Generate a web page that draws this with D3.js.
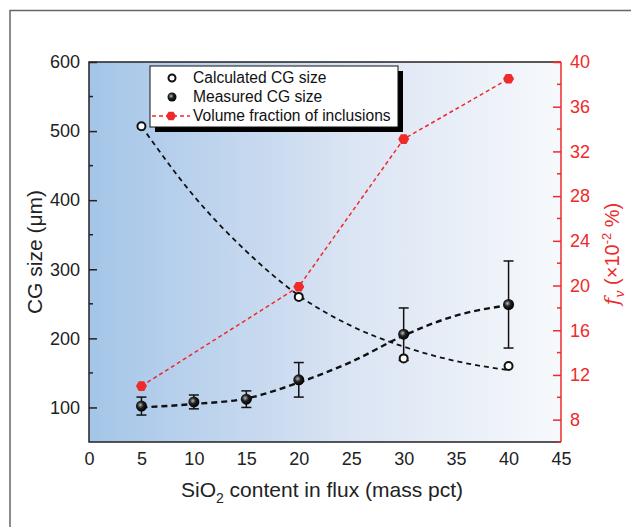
<!DOCTYPE html>
<html>
<head>
<meta charset="utf-8">
<script src="https://cdn.jsdelivr.net/npm/d3@7"></script>
<style>
  body { margin: 0; background: #fff; }
  svg { display: block; font-family: "Liberation Sans", Arial, sans-serif; }
</style>
</head>
<body>
<div id="chart"></div>
<script>
// SiO2 content (mass pct)
const sio2 = [5, 10, 15, 20, 30, 40];
const calcX = [5, 20, 30, 40];
const calcSize = [507, 260, 171, 160];
const measSize = [102, 108, 112, 140, 206, 249];
const measErr = [13, 10, 12, 25, 38, 63];
const fracX = [5, 20, 30, 40];
const fraction = [11.0, 19.9, 33.1, 38.5];

// fitted trend lines
const fitX = [5, 10, 15, 20, 25, 30, 35, 40];
const calcFit = [507, 406, 326, 262, 218, 188, 167, 154];
const measFit = [100, 105, 113, 136, 166, 204, 233, 248];

const xTicks = [0, 5, 10, 15, 20, 25, 30, 35, 40, 45];
const yTicks = [100, 200, 300, 400, 500, 600];
const y2Ticks = [8, 12, 16, 20, 24, 28, 32, 36, 40];

const width = 631, height = 527;
const margin = { top: 62, right: 70, bottom: 85, left: 89 };
const red = '#ee2a2a';

const svg = d3.select('#chart').append('svg')
    .attr('width', width)
    .attr('height', height);

// outer frame
svg.append('path')
    .attr('d', 'M10,527 V10.5 H631')
    .attr('fill', 'none')
    .attr('stroke', '#666')
    .attr('stroke-width', 1.5);

const x = d3.scaleLinear().domain([0, 45]).range([margin.left, width - margin.right]);
const y = d3.scaleLinear().domain([50, 600]).range([height - margin.bottom, margin.top]);
const y2 = d3.scaleLinear().domain([6, 40]).range([height - margin.bottom, margin.top]);

const defs = svg.append('defs');
const grad = defs.append('linearGradient').attr('id', 'bg');
grad.append('stop').attr('offset', '0%').attr('stop-color', '#a4c5e8');
grad.append('stop').attr('offset', '55%').attr('stop-color', '#dae4f3');
grad.append('stop').attr('offset', '100%').attr('stop-color', '#f7f9fc');

const ball = defs.append('radialGradient').attr('id', 'ball')
    .attr('cx', '40%').attr('cy', '40%').attr('r', '60%');
ball.append('stop').attr('offset', '0%').attr('stop-color', '#bbb');
ball.append('stop').attr('offset', '45%').attr('stop-color', '#222');
ball.append('stop').attr('offset', '100%').attr('stop-color', '#000');

const x0 = x.range()[0], x1 = x.range()[1];
const yb = y.range()[0], yt = y.range()[1];

svg.append('rect')
    .attr('x', x0).attr('y', yt)
    .attr('width', x1 - x0).attr('height', yb - yt)
    .attr('fill', 'url(#bg)');

// frame
svg.append('path')
    .attr('d', `M${x1},${yt} H${x0} V${yb} H${x1}`)
    .attr('fill', 'none')
    .attr('stroke', '#222')
    .attr('stroke-width', 1.5);

// left axis (ticks inward)
const yAxis = svg.append('g').attr('transform', `translate(${x0},0)`)
    .call(d3.axisLeft(y).tickValues(yTicks).tickSize(0).tickPadding(9));
yAxis.select('.domain').remove();
yAxis.selectAll('text').attr('font-size', 18).attr('fill', '#222')
    .attr('font-family', '"Liberation Sans", Arial, sans-serif');
yAxis.selectAll('.tick').append('line').attr('x2', 8).attr('stroke', '#222').attr('stroke-width', 1.5);
yAxis.selectAll('.minor').data(d3.range(150, 600, 100)).enter()
    .append('line')
    .attr('x1', 0).attr('x2', 4)
    .attr('y1', d => y(d)).attr('y2', d => y(d))
    .attr('stroke', '#222').attr('stroke-width', 1.5);

// bottom axis
const xAxis = svg.append('g').attr('transform', `translate(0,${yb})`)
    .call(d3.axisBottom(x).tickValues(xTicks).tickSize(0).tickPadding(10));
xAxis.select('.domain').remove();
xAxis.selectAll('text').attr('font-size', 18).attr('fill', '#222')
    .attr('font-family', '"Liberation Sans", Arial, sans-serif');

// right axis (red)
const y2Axis = svg.append('g').attr('transform', `translate(${x1},0)`)
    .call(d3.axisRight(y2).tickValues(y2Ticks).tickSize(0).tickPadding(9));
y2Axis.select('.domain').remove();
y2Axis.selectAll('text').attr('font-size', 18).attr('fill', red)
    .attr('font-family', '"Liberation Sans", Arial, sans-serif');
y2Axis.selectAll('.tick').append('line').attr('x2', -8).attr('stroke', red).attr('stroke-width', 1.5);
y2Axis.selectAll('.minor').data(d3.range(10, 40, 4)).enter()
    .append('line')
    .attr('x1', 0).attr('x2', -4)
    .attr('y1', d => y2(d)).attr('y2', d => y2(d))
    .attr('stroke', red).attr('stroke-width', 1.5);
y2Axis.append('line')
    .attr('y1', yt).attr('y2', yb)
    .attr('stroke', red).attr('stroke-width', 1.5);
svg.append('line').attr('x1', x1 - 8).attr('x2', x1).attr('y1', yt).attr('y2', yt)
    .attr('stroke', red).attr('stroke-width', 1.5);
svg.append('line').attr('x1', x1 - 4).attr('x2', x1).attr('y1', yb).attr('y2', yb)
    .attr('stroke', red).attr('stroke-width', 1.5);

// axis titles
const xt = svg.append('text')
    .attr('x', (x0 + x1) / 2 - 3).attr('y', 497)
    .attr('text-anchor', 'middle')
    .attr('font-size', 21).attr('fill', '#222');
xt.append('tspan').text('SiO');
xt.append('tspan').attr('font-size', 14).attr('dy', 6).text('2');
xt.append('tspan').attr('dy', -6).text(' content in flux (mass pct)');

svg.append('text')
    .attr('transform', `translate(42,${(yt + yb) / 2}) rotate(-90)`)
    .attr('text-anchor', 'middle')
    .attr('font-size', 21).attr('fill', '#222')
    .text('CG size (\u03bcm)');

const rt = svg.append('text')
    .attr('transform', `translate(619,${(yt + yb) / 2 + 2}) rotate(-90)`)
    .attr('text-anchor', 'middle')
    .attr('font-size', 20).attr('fill', red);
rt.append('tspan').attr('font-family', '"DejaVu Serif", serif').attr('font-style', 'italic').text('f');
rt.append('tspan').attr('font-family', '"DejaVu Serif", serif').attr('font-style', 'italic')
    .attr('font-size', 13).attr('dy', 5).text('v');
rt.append('tspan').attr('dy', -5).text(' (\u00d710');
rt.append('tspan').attr('font-size', 13).attr('dy', -8).text('-2');
rt.append('tspan').attr('dy', 8).text(' %)');

// fitted dashed curves
const line = d3.line().x(d => x(d[0])).y(d => y(d[1])).curve(d3.curveMonotoneX);
svg.append('path')
    .attr('d', line(fitX.map((v, i) => [v, calcFit[i]])))
    .attr('fill', 'none').attr('stroke', '#111')
    .attr('stroke-width', 1.8).attr('stroke-dasharray', '5,4');
svg.append('path')
    .attr('d', line(fitX.map((v, i) => [v, measFit[i]])))
    .attr('fill', 'none').attr('stroke', '#111')
    .attr('stroke-width', 2.4).attr('stroke-dasharray', '6,4');

// volume fraction line
const redLine = d3.line().x(d => x(d[0])).y(d => y2(d[1]));
svg.append('path')
    .attr('d', redLine(fracX.map((v, i) => [v, fraction[i]])))
    .attr('fill', 'none').attr('stroke', red)
    .attr('stroke-width', 1.5).attr('stroke-dasharray', '4,3');

const hexagon = (r) => {
    const pts = d3.range(6).map(k => {
        const a = Math.PI / 3 * k;
        return [r * Math.cos(a), r * Math.sin(a)];
    });
    return 'M' + pts.join('L') + 'Z';
};

svg.selectAll('.frac').data(fracX).enter()
    .append('path')
    .attr('d', hexagon(5.5))
    .attr('transform', (d, i) => `translate(${x(d)},${y2(fraction[i])})`)
    .attr('fill', red);

// error bars
const eb = svg.selectAll('.err').data(sio2).enter().append('g')
    .attr('stroke', '#111').attr('stroke-width', 1.5);
eb.append('line')
    .attr('x1', d => x(d)).attr('x2', d => x(d))
    .attr('y1', (d, i) => y(measSize[i] - measErr[i]))
    .attr('y2', (d, i) => y(measSize[i] + measErr[i]));
eb.append('line')
    .attr('x1', d => x(d) - 5).attr('x2', d => x(d) + 5)
    .attr('y1', (d, i) => y(measSize[i] + measErr[i]))
    .attr('y2', (d, i) => y(measSize[i] + measErr[i]));
eb.append('line')
    .attr('x1', d => x(d) - 5).attr('x2', d => x(d) + 5)
    .attr('y1', (d, i) => y(measSize[i] - measErr[i]))
    .attr('y2', (d, i) => y(measSize[i] - measErr[i]));

// calculated (open) points
svg.selectAll('.calc').data(calcX).enter()
    .append('circle')
    .attr('cx', d => x(d)).attr('cy', (d, i) => y(calcSize[i]))
    .attr('r', 4)
    .attr('fill', '#fff').attr('stroke', '#111').attr('stroke-width', 2);

// measured (filled) points
svg.selectAll('.meas').data(sio2).enter()
    .append('circle')
    .attr('cx', d => x(d)).attr('cy', (d, i) => y(measSize[i]))
    .attr('r', 5.5)
    .attr('fill', 'url(#ball)');

// legend
const lg = svg.append('g').attr('transform', 'translate(150,66)');
lg.append('rect').attr('x', 5).attr('y', 5).attr('width', 248).attr('height', 61).attr('fill', '#000');
lg.append('rect').attr('width', 248).attr('height', 61)
    .attr('fill', '#fff').attr('stroke', '#111').attr('stroke-width', 1);
const rows = ['Calculated CG size', 'Measured CG size', 'Volume fraction of inclusions'];
rows.forEach((t, i) => {
    lg.append('text')
        .attr('x', 43).attr('y', 17 + i * 19)
        .attr('font-size', 15.6).attr('fill', '#111')
        .text(t);
});
lg.append('circle').attr('cx', 22).attr('cy', 12).attr('r', 3.5)
    .attr('fill', '#fff').attr('stroke', '#111').attr('stroke-width', 2);
lg.append('circle').attr('cx', 22).attr('cy', 31).attr('r', 4.5).attr('fill', 'url(#ball)');
lg.append('line').attr('x1', 2).attr('x2', 40).attr('y1', 50).attr('y2', 50)
    .attr('stroke', red).attr('stroke-width', 1.5).attr('stroke-dasharray', '4,3');
lg.append('path').attr('d', hexagon(5)).attr('transform', 'translate(21,50)').attr('fill', red);
</script>
</body>
</html>
